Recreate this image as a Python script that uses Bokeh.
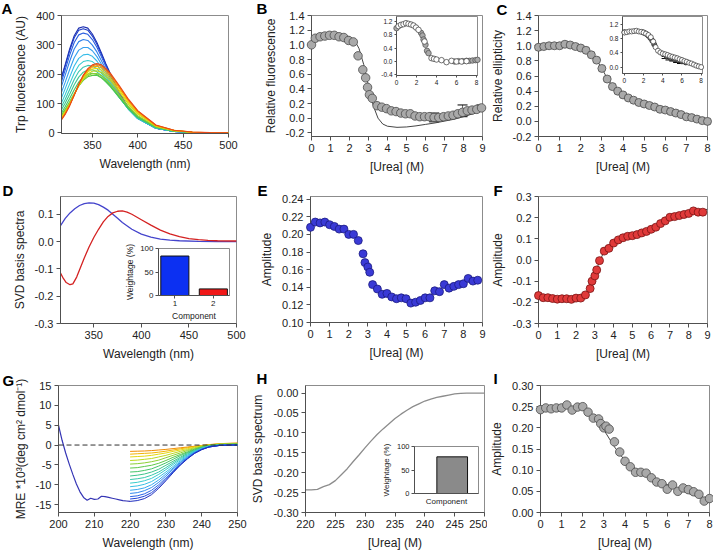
from bokeh.plotting import figure
from bokeh.models import (Range1d, FixedTicker, PrintfTickFormatter, GridBox, Column,
                          Span, Whisker, ColumnDataSource)
from bokeh.core.properties import value
from bokeh.embed import file_html
from bokeh.resources import INLINE

FONT = "Liberation Sans"
AXIS_COLOR = "#505050"
TEXT_COLOR = "#222222"
OUTLINE_COLOR = "#8c8c8c"

# ======================= DATA =======================
# ---- Panel A: Trp fluorescence spectra (0 -> 9 M urea) ----
a_wavelength = [315, 320, 325, 330, 335, 340, 345, 350, 355, 360, 365, 370, 380, 390, 400, 420, 440, 460, 480, 500]
a_spectra = [
    [180, 232, 286, 331, 357, 362, 357, 337, 308, 272, 235, 201, 136, 85, 51, 16, 5, 1.5, 0.5, 0],
    [176, 227, 280, 324, 350, 355, 350, 330, 302, 267, 231, 197, 133, 83, 50, 16, 5, 1.5, 0.5, 0],
    [165, 214, 265, 308, 334, 340, 336, 318, 292, 259, 225, 193, 131, 83, 50, 16, 5, 1.5, 0.5, 0],
    [150, 196, 244, 286, 311, 318, 315, 299, 276, 246, 215, 185, 127, 81, 49, 16, 5, 1.5, 0.5, 0],
    [130, 172, 216, 256, 282, 291, 291, 280, 260, 234, 206, 179, 124, 80, 49, 16, 5, 1.5, 0.5, 0],
    [112, 150, 190, 228, 254, 266, 268, 261, 245, 223, 198, 173, 122, 80, 49, 17, 5, 1.5, 0.5, 0],
    [96, 130, 167, 203, 230, 243, 247, 243, 231, 212, 191, 168, 121, 80, 50, 17, 5.5, 1.5, 0.5, 0],
    [84, 114, 148, 182, 209, 224, 230, 228, 219, 203, 184, 164, 120, 80, 50, 17, 5.5, 1.5, 0.5, 0],
    [74, 101, 132, 164, 190, 207, 214, 215, 208, 195, 178, 160, 119, 81, 52, 18, 6, 2, 0.5, 0],
    [64, 89, 117, 147, 173, 191, 200, 203, 199, 188, 173, 157, 119, 82, 53, 19, 6, 2, 0.5, 0],
    [57, 80, 106, 134, 160, 179, 191, 196, 196, 188, 175, 159, 122, 86, 56, 20, 7, 2, 0.5, 0],
    [53, 76, 102, 132, 160, 181, 195, 202, 202, 195, 182, 166, 128, 90, 59, 21, 7, 2, 0.5, 0],
    [49, 72, 99, 130, 160, 184, 201, 210, 212, 206, 193, 177, 137, 97, 64, 23, 8, 2.5, 0.5, 0],
    [46, 69, 97, 130, 162, 189, 207, 218, 220, 214, 201, 185, 144, 102, 67, 24, 8, 2.5, 0.5, 0],
    [44, 67, 96, 130, 164, 193, 212, 224, 227, 222, 209, 193, 151, 107, 71, 25, 8.5, 2.5, 0.5, 0],
    [42, 65, 94, 129, 165, 195, 216, 229, 232, 228, 215, 199, 156, 111, 74, 26, 9, 3, 0.5, 0],
    [40, 63, 92, 128, 165, 197, 219, 232, 236, 232, 219, 203, 160, 114, 76, 27, 9, 3, 1, 0],
]
a_colors = ["#1a2db0", "#1f3cc4", "#2a5ee0", "#3080ea", "#34a0ee", "#36bce8", "#38ccd0",
            "#38c8b0", "#3cc890", "#40c468", "#58c844", "#8ccf30", "#c4d818", "#e8d800",
            "#f5a800", "#f87a00", "#e84818"]

# ---- Panel B: relative fluorescence ----
b_urea = [0, 0.2, 0.45, 0.7, 0.95, 1.2, 1.45, 1.7, 1.95, 2.2, 2.45, 2.7, 2.85, 2.95, 3.05, 3.2,
          3.45, 3.7, 3.95, 4.2, 4.45, 4.7, 4.95, 5.2, 5.45, 5.7, 5.95, 6.2, 6.45, 6.7, 6.95, 7.2,
          7.45, 7.7, 7.95, 8.2, 8.45, 8.7, 8.95]
b_fluor = [1.0, 1.09, 1.11, 1.12, 1.13, 1.13, 1.11, 1.1, 1.06, 1.04, 0.85, 0.66, 0.55, 0.42, 0.32,
           0.27, 0.17, 0.15, 0.13, 0.1, 0.09, 0.07, 0.06, 0.06, 0.03, 0.02, 0.02, 0.02, 0.01, 0.01,
           0.02, 0.03, 0.04, 0.06, 0.08, 0.1, 0.11, 0.12, 0.14]
b_fit_urea = [0, 0.5, 1.0, 1.5, 2.0, 2.25, 2.5, 2.75, 3.0, 3.25, 3.5, 3.75, 4.0, 4.5, 5.0, 5.5,
              6.0, 6.5, 7.0, 7.5, 8.0, 8.5, 9.0]
b_fit = [1.05, 1.09, 1.12, 1.13, 1.11, 1.07, 0.95, 0.73, 0.44, 0.17, 0.0, -0.08, -0.11, -0.125,
         -0.12, -0.105, -0.085, -0.065, -0.04, -0.015, 0.02, 0.06, 0.1]
b_err_urea = [6.45, 7.95, 8.95]
b_err_low = [-0.05, 0.02, 0.1]
b_err_high = [0.07, 0.18, 0.18]
b_inset_urea = [0.2, 0.45, 0.7, 0.95, 1.2, 1.45, 1.7, 1.95, 2.2, 2.8, 3.5, 3.75, 4.0, 4.5, 5.0,
                5.5, 6.0, 6.5, 7.0]
b_inset_fluor = [1.06, 1.1, 1.12, 1.15, 1.13, 1.11, 1.08, 1.02, 0.95, 0.6, 0.1, 0.08, 0.06, 0.04,
                 -0.02, 0.02, 0.0, 0.0, 0.01]
b_inset2_urea = [0.0, 2.45, 2.6, 2.7, 2.9, 3.05, 3.2, 5.8, 6.2, 6.6, 7.0, 7.3, 7.6, 7.9, 8.1]
b_inset2_fluor = [1.0, 0.86, 0.78, 0.66, 0.5, 0.32, 0.25, 0.0, 0.01, 0.01, 0.02, 0.02, 0.03, 0.04, 0.05]

# ---- Panel C: relative ellipticity ----
c_urea = [0, 0.25, 0.5, 0.75, 1.0, 1.25, 1.5, 1.75, 2.0, 2.25, 2.5, 2.75, 3.0, 3.25, 3.5, 3.75,
          4.0, 4.25, 4.5, 4.75, 5.0, 5.25, 5.5, 5.75, 6.0, 6.25, 6.5, 6.75, 7.0, 7.25, 7.5, 7.75, 8.0]
c_ellip = [0.98, 0.99, 1.0, 1.0, 1.0, 1.02, 1.01, 0.99, 0.97, 0.94, 0.88, 0.81, 0.7, 0.56, 0.46,
           0.4, 0.35, 0.31, 0.28, 0.25, 0.23, 0.21, 0.19, 0.16, 0.15, 0.13, 0.11, 0.09, 0.06, 0.05,
           0.03, 0.01, 0.0]
c_fit_urea = [0, 0.5, 1.0, 1.5, 2.0, 2.5, 2.75, 3.0, 3.25, 3.5, 3.75, 4.0, 4.5, 5.0, 5.5, 6.0,
              6.5, 7.0, 7.5, 8.0]
c_fit = [0.99, 1.0, 1.01, 1.0, 0.97, 0.89, 0.81, 0.7, 0.57, 0.47, 0.4, 0.35, 0.28, 0.23, 0.19,
         0.15, 0.11, 0.07, 0.035, 0.0]
c_inset_urea = [0, 0.25, 0.5, 0.75, 1.0, 1.25, 1.5, 1.75, 2.0, 2.25, 2.5, 2.75, 3.0, 3.25, 3.5,
                3.75, 4.0, 4.25, 4.5, 4.75, 5.0, 5.25, 5.5, 5.75, 6.0, 6.25, 6.5, 6.75, 7.0, 7.25,
                7.5, 7.75, 8.0]
c_inset_ellip = [0.97, 0.98, 1.0, 1.0, 1.01, 1.02, 1.0, 0.99, 0.97, 0.94, 0.9, 0.84, 0.72, 0.56,
                 0.46, 0.41, 0.38, 0.36, 0.34, 0.31, 0.29, 0.27, 0.25, 0.22, 0.2, 0.17, 0.15,
                 0.12, 0.1, 0.07, 0.04, 0.02, 0.0]
c_inset2_urea = [0.0, 1.9, 2.1, 2.3, 2.5, 2.7, 2.9, 3.1, 4.4, 4.8, 5.2, 5.6, 6.0, 6.4]
c_inset2_ellip = [0.98, 0.98, 0.96, 0.93, 0.88, 0.82, 0.74, 0.64, 0.3, 0.26, 0.23, 0.19, 0.16, 0.13]
c_inset_err_urea = [4.4, 4.8, 5.2, 5.6, 6.0]
c_inset_err_low = [0.24, 0.2, 0.17, 0.13, 0.1]
c_inset_err_high = [0.3, 0.26, 0.23, 0.19, 0.16]

# ---- Panel D: SVD basis spectra ----
d_wl_blue = [315, 320, 325, 330, 335, 340, 345, 350, 355, 360, 365, 370, 375, 380, 390, 400, 410,
             420, 430, 440, 460, 480, 500]
d_blue = [0.058, 0.085, 0.105, 0.12, 0.132, 0.139, 0.142, 0.141, 0.135, 0.126, 0.115, 0.1, 0.085,
          0.07, 0.045, 0.027, 0.016, 0.009, 0.005, 0.003, 0.001, 0.0, 0.0]
d_wl_red = [315, 318, 321, 325, 328, 332, 336, 340, 345, 350, 355, 360, 365, 370, 375, 380, 385,
            390, 400, 410, 420, 430, 440, 450, 460, 470, 480, 500]
d_red = [-0.115, -0.135, -0.15, -0.158, -0.155, -0.13, -0.095, -0.06, -0.02, 0.015, 0.045, 0.072,
         0.092, 0.105, 0.111, 0.112, 0.108, 0.1, 0.08, 0.06, 0.042, 0.028, 0.018, 0.011, 0.007,
         0.004, 0.003, 0.002]
d_component = [1, 2]
d_weightage = [84, 14]
d_bar_colors = ["#0c30f2", "#f01818"]

# ---- Panel E: amplitude (component 1) ----
e_urea = [0, 0.25, 0.5, 0.75, 1.0, 1.25, 1.5, 1.75, 2.0, 2.25, 2.5, 2.75, 2.85, 3.0, 3.1, 3.25,
          3.5, 3.75, 4.0, 4.25, 4.5, 4.75, 5.0, 5.25, 5.5, 5.75, 6.0, 6.25, 6.5, 6.75, 7.0, 7.25,
          7.5, 7.75, 8.0, 8.25, 8.5, 8.75]
e_amp = [0.208, 0.214, 0.213, 0.214, 0.211, 0.209, 0.206, 0.206, 0.2, 0.2, 0.193, 0.178, 0.168,
         0.163, 0.157, 0.143, 0.138, 0.132, 0.133, 0.129, 0.127, 0.128, 0.127, 0.122, 0.123,
         0.125, 0.128, 0.128, 0.136, 0.135, 0.143, 0.139, 0.141, 0.143, 0.144, 0.15, 0.147, 0.148]

# ---- Panel F: amplitude (component 2) ----
f_urea = [0, 0.25, 0.5, 0.75, 1.0, 1.25, 1.5, 1.75, 2.0, 2.25, 2.5, 2.75, 2.85, 3.0, 3.1, 3.25,
          3.5, 3.75, 4.0, 4.25, 4.5, 4.75, 5.0, 5.25, 5.5, 5.75, 6.0, 6.25, 6.5, 6.75, 7.0, 7.25,
          7.5, 7.75, 8.0, 8.25, 8.5, 8.75]
f_amp = [-0.168, -0.178, -0.178, -0.182, -0.185, -0.183, -0.183, -0.186, -0.18, -0.18, -0.165,
         -0.135, -0.1, -0.075, -0.047, -0.003, 0.042, 0.055, 0.08, 0.095, 0.105, 0.112, 0.115,
         0.12, 0.128, 0.135, 0.145, 0.155, 0.172, 0.185, 0.202, 0.205, 0.21, 0.215, 0.22, 0.232,
         0.226, 0.226]
f_fit_urea = [0, 0.5, 1, 1.5, 2, 2.25, 2.5, 2.75, 3.0, 3.25, 3.5, 3.75, 4.0, 4.5, 5.0, 5.5, 6.0,
              6.5, 7.0, 7.5, 8.0, 8.5, 9.0]
f_fit = [-0.175, -0.18, -0.183, -0.184, -0.182, -0.178, -0.165, -0.13, -0.07, -0.005, 0.04, 0.068,
         0.085, 0.105, 0.118, 0.13, 0.145, 0.165, 0.19, 0.205, 0.218, 0.228, 0.24]

# ---- Panel G: far-UV CD spectra ----
g_full_wl = [200, 201, 202, 203, 204, 205, 206, 207, 208, 209, 210, 211, 212, 213, 214, 215, 216,
             217, 218, 219, 220]
g_full_mre = [5.0, 1.2, -2.0, -4.8, -7.4, -9.8, -11.8, -13.2, -13.9, -13.4, -13.7, -13.6, -12.9,
              -13.0, -13.2, -13.4, -13.6, -13.8, -14.0, -14.1, -14.2]
g_wl = [220, 222, 224, 226, 228, 230, 232, 234, 236, 238, 240, 242, 245, 248, 250]
g_spectra = [
    [-14.2, -14.0, -13.5, -12.5, -10.9, -9.0, -7.0, -5.1, -3.5, -2.1, -1.2, -0.5, -0.1, 0.0, 0.0],
    [-13.6, -13.4, -12.9, -12.0, -10.5, -8.7, -6.8, -5.0, -3.4, -2.1, -1.1, -0.5, -0.1, 0.0, 0.0],
    [-13.0, -12.8, -12.3, -11.4, -10.0, -8.3, -6.5, -4.8, -3.3, -2.0, -1.1, -0.5, -0.1, 0.0, 0.0],
    [-12.2, -12.0, -11.5, -10.7, -9.4, -7.8, -6.1, -4.5, -3.1, -1.9, -1.0, -0.45, -0.1, 0.0, 0.0],
    [-11.4, -11.2, -10.8, -10.0, -8.8, -7.3, -5.8, -4.3, -2.9, -1.8, -1.0, -0.4, -0.05, 0.0, 0.05],
    [-10.5, -10.3, -9.9, -9.2, -8.1, -6.8, -5.4, -4.0, -2.7, -1.7, -0.9, -0.4, -0.05, 0.05, 0.1],
    [-9.6, -9.4, -9.0, -8.4, -7.4, -6.2, -4.9, -3.7, -2.5, -1.6, -0.85, -0.35, 0.0, 0.05, 0.1],
    [-8.7, -8.5, -8.2, -7.6, -6.8, -5.7, -4.5, -3.4, -2.3, -1.5, -0.8, -0.3, 0.0, 0.1, 0.1],
    [-7.8, -7.6, -7.3, -6.8, -6.1, -5.1, -4.1, -3.1, -2.1, -1.35, -0.7, -0.3, 0.05, 0.1, 0.15],
    [-6.8, -6.7, -6.4, -6.0, -5.3, -4.5, -3.6, -2.7, -1.9, -1.2, -0.6, -0.2, 0.1, 0.15, 0.2],
    [-5.8, -5.7, -5.4, -5.1, -4.6, -3.9, -3.1, -2.4, -1.7, -1.05, -0.5, -0.15, 0.15, 0.2, 0.25],
    [-4.8, -4.7, -4.5, -4.2, -3.8, -3.2, -2.6, -2.0, -1.4, -0.9, -0.4, -0.1, 0.2, 0.25, 0.3],
    [-3.9, -3.8, -3.6, -3.4, -3.0, -2.6, -2.1, -1.6, -1.15, -0.7, -0.3, -0.05, 0.2, 0.3, 0.35],
    [-3.0, -2.9, -2.8, -2.6, -2.3, -2.0, -1.6, -1.25, -0.9, -0.55, -0.2, 0.0, 0.25, 0.35, 0.4],
    [-2.3, -2.2, -2.1, -2.0, -1.8, -1.55, -1.25, -0.95, -0.65, -0.4, -0.15, 0.05, 0.3, 0.4, 0.45],
    [-1.6, -1.55, -1.5, -1.4, -1.25, -1.1, -0.9, -0.7, -0.5, -0.3, -0.1, 0.1, 0.35, 0.45, 0.5],
]
g_colors = ["#1f2fbf", "#2044d6", "#2a64e6", "#3088ee", "#36a8ee", "#38c0e4", "#38cccc",
            "#38c8ac", "#3cc48c", "#44c468", "#5cc848", "#8cd034", "#bcd820", "#e4d810",
            "#f2b400", "#f08c00"]

# ---- Panel H: SVD basis spectrum (CD) ----
h_wl = [220, 221, 222, 223, 224, 225, 226, 227, 228, 229, 230, 231, 232, 233, 234, 235, 236, 237,
        238, 239, 240, 241, 242, 243, 244, 245, 246, 247, 248, 249, 250]
h_basis = [-0.243, -0.243, -0.242, -0.235, -0.23, -0.22, -0.205, -0.19, -0.172, -0.155, -0.137,
           -0.12, -0.104, -0.09, -0.077, -0.064, -0.053, -0.043, -0.034, -0.027, -0.02, -0.015,
           -0.011, -0.008, -0.005, -0.002, -0.001, 0.0, 0.0, 0.0, 0.0]
h_component = [1]
h_weightage = [78]

# ---- Panel I: amplitude (CD) ----
i_urea = [0, 0.25, 0.5, 0.75, 1.0, 1.25, 1.5, 1.75, 2.0, 2.25, 2.5, 2.75, 2.85, 3.0, 3.1, 3.25,
          3.5, 3.75, 4.0, 4.25, 4.5, 4.75, 5.0, 5.25, 5.5, 5.75, 6.0, 6.25, 6.5, 6.75, 7.0, 7.25,
          7.5, 7.75, 8.0]
i_amp = [0.243, 0.247, 0.245, 0.247, 0.247, 0.254, 0.242, 0.249, 0.25, 0.237, 0.223, 0.221, 0.21,
         0.2, 0.204, 0.197, 0.167, 0.143, 0.121, 0.108, 0.095, 0.095, 0.093, 0.082, 0.072, 0.068,
         0.055, 0.065, 0.05, 0.058, 0.054, 0.049, 0.043, 0.027, 0.033]
i_fit_urea = [0, 1, 1.5, 2, 2.5, 3, 3.5, 4, 4.5, 5, 5.5, 6, 6.5, 7, 7.5, 8]
i_fit = [0.245, 0.248, 0.249, 0.247, 0.23, 0.195, 0.155, 0.122, 0.103, 0.09, 0.078, 0.066, 0.055,
         0.045, 0.036, 0.027]

panel_letters = ["A", "B", "C", "D", "E", "F", "G", "H", "I"]

# ======================= HELPERS =======================
def make_panel(box, frame, xr, yr):
    L, T, R, B = box
    fl, ft, fr, fb = frame
    p = figure(width=R - L, height=B - T, x_range=Range1d(*xr), y_range=Range1d(*yr),
               output_backend="svg", toolbar_location=None,
               min_border_left=fl - L, min_border_right=R - fr,
               min_border_top=ft - T, min_border_bottom=B - fb)
    p.border_fill_color = None
    p.background_fill_color = "white"
    p.outline_line_color = OUTLINE_COLOR
    p.outline_line_width = 1
    p.xgrid.visible = False
    p.ygrid.visible = False
    return p


def style_axes(p, xticks, yticks, xfmt, yfmt, xlabel=None, ylabel=None,
               tick_size="11px", label_size="12px", tick_out=4,
               label_standoff=3, axis_label_standoff=5):
    p.xaxis.ticker = FixedTicker(ticks=xticks)
    p.yaxis.ticker = FixedTicker(ticks=yticks)
    p.xaxis.formatter = PrintfTickFormatter(format=xfmt)
    p.yaxis.formatter = PrintfTickFormatter(format=yfmt)
    for ax in (p.xaxis[0], p.yaxis[0]):
        ax.axis_line_color = AXIS_COLOR
        ax.axis_line_width = 1
        ax.major_tick_line_color = AXIS_COLOR
        ax.minor_tick_line_color = None
        ax.major_tick_out = tick_out
        ax.major_tick_in = 0
        ax.major_label_text_font = FONT
        ax.major_label_text_font_size = tick_size
        ax.major_label_text_color = TEXT_COLOR
        ax.major_label_standoff = label_standoff
        ax.axis_label_text_font = FONT
        ax.axis_label_text_font_size = label_size
        ax.axis_label_text_font_style = "normal"
        ax.axis_label_text_color = TEXT_COLOR
        ax.axis_label_standoff = axis_label_standoff
    if xlabel is not None:
        p.xaxis.axis_label = xlabel
    if ylabel is not None:
        p.yaxis.axis_label = ylabel


def letter_fig(text, left, center_y):
    w, h = 24, 24
    top = max(0, center_y - h // 2)
    p = figure(width=w, height=h, x_range=Range1d(0, w), y_range=Range1d(h, 0),
               output_backend="svg", toolbar_location=None,
               min_border_left=0, min_border_right=0, min_border_top=0, min_border_bottom=0)
    p.axis.visible = False
    p.grid.visible = False
    p.outline_line_color = None
    p.background_fill_color = None
    p.border_fill_color = None
    x0 = max(0, left - 1)
    p.text(x=[left - x0], y=[center_y - top], text=[text], text_font=value(FONT),
           text_font_size=value("15px"), text_font_style="bold", text_color="black",
           text_align="left", text_baseline="middle")
    return p, (x0, top, x0 + w, top + h)


def dots(p, x, y, size, fill, line, width=0.8):
    p.scatter(x=x, y=y, size=size, fill_color=fill, line_color=line, line_width=width,
              level="overlay")


GRAY_FILL, GRAY_LINE = "#a9a9a9", "#4a4a4a"
items = []

# ======================= PANEL A =======================
box, fr_ = (0, 0, 248, 176), (61, 15, 228, 133)
pa = make_panel(box, fr_, (316, 500), (-2, 400))
for spec, col in zip(a_spectra, a_colors):
    pa.line(a_wavelength, spec, line_color=col, line_width=1.1)
style_axes(pa, [350, 400, 450, 500], [0, 100, 200, 300, 400], "%d", "%d",
           "Wavelength (nm)", "Trp fluorescence (AU)")
items.append((pa, box))

# ======================= PANEL B =======================
box, fr_ = (248, 0, 487, 176), (311, 15, 482, 136)
pb = make_panel(box, fr_, (0, 9), (-0.25, 1.4))
pb.line(b_fit_urea, b_fit, line_color="#303030", line_width=0.9)
pb.add_layout(Whisker(source=ColumnDataSource(dict(x=b_err_urea, lo=b_err_low, hi=b_err_high)),
                      base="x", lower="lo", upper="hi", line_color="#404040", line_width=0.8))
dots(pb, b_urea, b_fluor, 8.5, GRAY_FILL, GRAY_LINE)
style_axes(pb, list(range(0, 10)), [-0.2, 0.0, 0.2, 0.4, 0.6, 0.8, 1.0, 1.2, 1.4], "%d", "%.1f",
           "[Urea] (M)", "Relative fluorescence")
items.append((pb, box))

# ======================= PANEL C =======================
box, fr_ = (487, 0, 713, 176), (534, 15, 707, 136)
pc = make_panel(box, fr_, (0, 8), (-0.2, 1.4))
pc.line(c_fit_urea, c_fit, line_color="#303030", line_width=0.9)
dots(pc, c_urea, c_ellip, 8, GRAY_FILL, GRAY_LINE)
style_axes(pc, list(range(0, 9)), [-0.2, 0.0, 0.2, 0.4, 0.6, 0.8, 1.0, 1.2, 1.4], "%d", "%.1f",
           "[Urea] (M)", "Relative ellipticity")
items.append((pc, box))

# ======================= PANEL D =======================
box, fr_ = (0, 176, 248, 364), (60, 196, 236, 323)
pd_ = make_panel(box, fr_, (315, 500), (-0.3, 0.165))
pd_.line(d_wl_blue, d_blue, line_color="#4444cc", line_width=1.3)
pd_.line(d_wl_red, d_red, line_color="#d42222", line_width=1.3)
style_axes(pd_, [350, 400, 450, 500], [-0.3, -0.2, -0.1, 0.0, 0.1], "%d", "%.1f",
           "Wavelength (nm)", "SVD basis spectra")
items.append((pd_, box))

# ======================= PANEL E =======================
box, fr_ = (248, 176, 487, 364), (310, 196, 482, 322)
pe = make_panel(box, fr_, (0, 9), (0.1, 0.243))
dots(pe, e_urea, e_amp, 8, "#3a3ad6", "#1c1c80")
style_axes(pe, list(range(0, 10)), [0.10, 0.12, 0.14, 0.16, 0.18, 0.20, 0.22, 0.24], "%d", "%.2f",
           "[Urea] (M)", "Amplitude")
items.append((pe, box))

# ======================= PANEL F =======================
box, fr_ = (487, 176, 713, 364), (534, 196, 707, 323)
pf = make_panel(box, fr_, (0, 9), (-0.3, 0.3))
pf.line(f_fit_urea, f_fit, line_color="#303030", line_width=0.9)
dots(pf, f_urea, f_amp, 8, "#e03a3a", "#7a1414")
style_axes(pf, list(range(0, 10)), [-0.3, -0.2, -0.1, 0.0, 0.1, 0.2, 0.3], "%d", "%.1f",
           "[Urea] (M)", "Amplitude")
items.append((pf, box))

# ======================= PANEL G =======================
box, fr_ = (0, 364, 248, 552), (58, 385, 237, 513)
pg = make_panel(box, fr_, (200, 250), (-17, 15))
pg.add_layout(Span(location=0, dimension="width", line_color="#303030", line_width=1,
                   line_dash="5 3"))
for spec, col in zip(reversed(g_spectra), reversed(g_colors)):
    pg.line(g_wl, spec, line_color=col, line_width=1)
pg.line(g_full_wl, g_full_mre, line_color="#3535b5", line_width=1.2)
style_axes(pg, [200, 210, 220, 230, 240, 250], [-15, -10, -5, 0, 5, 10, 15], "%d", "%d",
           "Wavelength (nm)", "MRE *10\u00b3(deg cm\u00b2 dmol\u207b\u00b9)")
items.append((pg, box))

# ======================= PANEL H =======================
box, fr_ = (248, 364, 487, 552), (304, 385, 484, 513)
ph = make_panel(box, fr_, (220, 250), (-0.30, 0.019))
ph.line(h_wl, h_basis, line_color="#8c8c8c", line_width=1.3)
style_axes(ph, [220, 225, 230, 235, 240, 245, 250],
           [-0.30, -0.25, -0.20, -0.15, -0.10, -0.05, 0.00], "%d", "%.2f",
           "[Urea] (M)", "SVD basis spectrum")
items.append((ph, box))

# ======================= PANEL I =======================
box, fr_ = (487, 364, 713, 552), (534, 385, 709, 512)
pi = make_panel(box, fr_, (0, 8), (0, 0.3))
pi.line(i_fit_urea, i_fit, line_color="#303030", line_width=0.9)
dots(pi, i_urea, i_amp, 8.5, GRAY_FILL, GRAY_LINE)
style_axes(pi, list(range(0, 9)), [0.00, 0.05, 0.10, 0.15, 0.20, 0.25, 0.30], "%d", "%.2f",
           "[Urea] (M)", "Amplitude")
items.append((pi, box))

# ======================= INSETS =======================
# B inset
box, fr_ = (365, 8, 481, 92), (396, 16, 477, 75)
ib = make_panel(box, fr_, (0, 8.1), (-0.42, 1.35))
dots(ib, b_inset2_urea, b_inset2_fluor, 5.5, GRAY_FILL, GRAY_LINE, 0.7)
dots(ib, b_inset_urea, b_inset_fluor, 5.5, "white", "#333333", 0.7)
style_axes(ib, [0, 2, 4, 6, 8], [-0.4, 0.0, 0.4, 0.8, 1.2], "%d", "%.1f",
           tick_size="6.5px", tick_out=2, label_standoff=2)
items.append((ib, box))

# C inset
box, fr_ = (598, 8, 705, 90), (622, 16, 702, 73)
ic = make_panel(box, fr_, (-0.2, 8.14), (-0.18, 1.42))
ic.add_layout(Whisker(source=ColumnDataSource(dict(x=c_inset_err_urea, lo=c_inset_err_low,
                                                   hi=c_inset_err_high)),
                      base="x", lower="lo", upper="hi", line_color="#202020", line_width=0.7))
dots(ic, c_inset2_urea, c_inset2_ellip, 5, "#6a6a6a", "#222222", 0.7)
dots(ic, c_inset_urea, c_inset_ellip, 5, "white", "#333333", 0.7)
style_axes(ic, [0, 2, 4, 6, 8], [0.0, 0.4, 0.8, 1.2], "%d", "%.1f",
           tick_size="6.5px", tick_out=2, label_standoff=2)
items.append((ic, box))

# D inset
box, fr_ = (122, 242, 233, 323), (158, 248, 229, 299)
idd = make_panel(box, fr_, (0.575, 2.42), (0, 100))
idd.vbar(x=d_component, top=d_weightage, width=0.73, fill_color=d_bar_colors,
         line_color="#111111", line_width=1)
style_axes(idd, d_component, [0, 50, 100], "%d", "%d", "Component", "Weightage (%)",
           tick_size="8px", label_size="8.5px", tick_out=3, label_standoff=2,
           axis_label_standoff=2)
items.append((idd, box))

# H inset
box, fr_ = (378, 440, 481, 512), (412, 446, 478, 493)
ih = make_panel(box, fr_, (0.14, 1.6), (0, 100))
ih.vbar(x=h_component, top=h_weightage, width=0.7, fill_color="#8a8a8a",
        line_color="#111111", line_width=1)
style_axes(ih, [], [0, 50, 100], "%d", "%d", "Component", "Weightage (%)",
           tick_size="7.5px", label_size="8px", tick_out=3, label_standoff=2,
           axis_label_standoff=3)
items.append((ih, box))

# ======================= PANEL LETTERS =======================
letter_spots = [(1, 8), (256, 8), (496, 9), (2, 190), (257, 190), (493, 190),
                (2, 380), (256, 378), (493, 378)]
for txt, (lx, cy) in zip(panel_letters, letter_spots):
    items.append(letter_fig(txt, lx, cy))

# ======================= LAYOUT =======================
# every figure is wrapped in its own Column so that the grid does not
# align plot frames between figures that share a grid line
xs = sorted({b[0] for _, b in items} | {b[2] for _, b in items})
ys = sorted({b[1] for _, b in items} | {b[3] for _, b in items})
cols = [f"{xs[i + 1] - xs[i]}px" for i in range(len(xs) - 1)]
rows = [f"{ys[i + 1] - ys[i]}px" for i in range(len(ys) - 1)]
children = []
for fig, b in items:
    r0, c0 = ys.index(b[1]), xs.index(b[0])
    holder = Column(children=[fig], spacing=0)
    children.append((holder, r0, c0, ys.index(b[3]) - r0, xs.index(b[2]) - c0))

grid = GridBox(children=children, rows=rows, cols=cols, spacing=0)

with open("out.html", "w") as fh:
    fh.write(file_html(grid, INLINE))
